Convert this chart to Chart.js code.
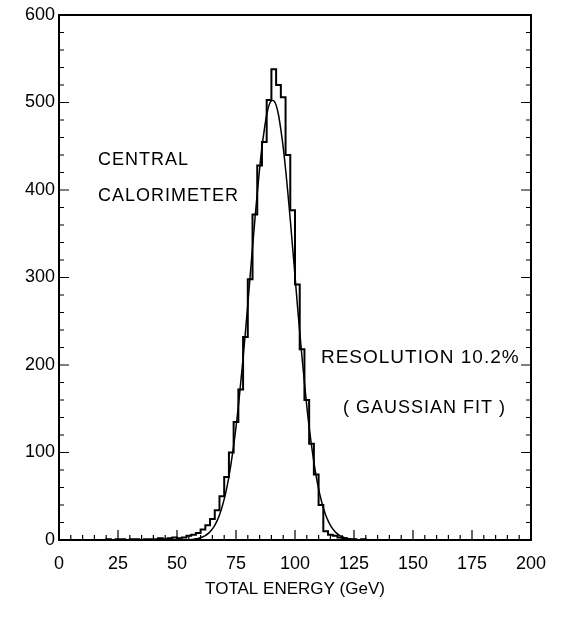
<!DOCTYPE html>
<html>
<head>
<meta charset="utf-8">
<script src="https://cdn.jsdelivr.net/npm/chart.js@4"></script>
<style>
  html, body { margin: 0; padding: 0; background: #fff; }
  #wrap { width: 562px; height: 619px; }
</style>
</head>
<body>
<div id="wrap"><canvas id="chart" width="562" height="619"></canvas></div>
<script>
// energy histogram, 2 GeV bins starting at 0
const binStart = 0;
const binWidth = 2;
const binCounts = [
  0, 0, 0, 0, 0, 0, 0, 0, 0, 0,            // 0 - 20
  1, 0, 1, 1, 0, 1, 1, 0, 1, 1,            // 20 - 40
  1, 2, 1, 2, 3, 2, 3, 5, 6, 8,            // 40 - 60
  12, 17, 24, 34, 50, 72, 100, 135, 172, 232,   // 60 - 80
  298, 372, 428, 455, 503, 538, 520, 506, 440, 377, // 80 - 100
  292, 218, 160, 110, 75, 40, 10, 6, 5, 3, // 100 - 120
  2, 1, 1, 0, 1, 0, 0, 0, 0, 0,            // 120 - 140
  0, 0, 0, 0, 0, 0, 0, 0, 0, 0,
  0, 0, 0, 0, 0, 0, 0, 0, 0, 0,
  0, 0, 0, 0, 0, 0, 0, 0, 0, 0
];

const fitEnergy = [
  52, 53, 54, 55, 56, 57, 58, 59, 60, 61, 62, 63, 64, 65, 66, 67, 68, 69, 70,
  71, 72, 73, 74, 75, 76, 77, 78, 79, 80, 81, 82, 83, 84, 85, 86, 87, 88, 89, 90,
  91, 92, 93, 94, 95, 96, 97, 98, 99, 100, 101, 102, 103, 104, 105, 106, 107, 108, 109, 110,
  111, 112, 113, 114, 115, 116, 117, 118, 119, 120, 121, 122, 123, 124, 125, 126, 127, 128, 129
];
const fitCounts = [
  0.1, 0.2, 0.3, 0.4, 0.6, 0.9, 1.3, 1.8, 2.6, 3.7, 5.1, 7.0, 9.5, 12.7, 16.8, 22.1, 28.7, 36.8, 46.7,
  58.5, 72.5, 89, 108, 129, 153, 180, 208, 238, 269, 302, 334, 366, 396, 424, 449, 469, 486, 497, 502,
  502, 497, 486, 469, 449, 424, 396, 366, 334, 302, 269, 238, 208, 180, 153, 129, 108, 89, 72.5, 58.5,
  46.7, 36.8, 28.7, 22.1, 16.8, 12.7, 9.5, 7.0, 5.1, 3.7, 2.6, 1.8, 1.3, 0.9, 0.6, 0.4, 0.3, 0.2, 0.1
];

const xRange = [0, 200];
const yRange = [0, 600];
const xMajor = 25, xMinor = 5;
const yMajor = 100, yMinor = 20;

// step outline: one point per bin edge, each bin's count held until the next edge
const histPoints = binCounts.map((c, i) => ({ x: binStart + i * binWidth, y: c }));
histPoints.push({ x: binStart + binCounts.length * binWidth, y: binCounts[binCounts.length - 1] });
const fitPoints = fitEnergy.map((e, i) => ({ x: e, y: fitCounts[i] }));

const notes = [
  { text: 'CENTRAL', x: 16.5, y: 434, size: 18 },
  { text: 'CALORIMETER', x: 16.5, y: 393, size: 18 },
  { text: 'RESOLUTION 10.2%', x: 111, y: 208, size: 19 },
  { text: '( GAUSSIAN FIT )', x: 120.3, y: 151, size: 18 }
];

// closed frame, inward tick marks and the text inside the plot
const frameAndTicks = {
  id: 'frameAndTicks',
  afterDatasetsDraw(chart) {
    const { ctx, chartArea: a, scales: { x, y } } = chart;
    ctx.save();
    ctx.strokeStyle = '#000';
    ctx.lineWidth = 2;
    ctx.strokeRect(a.left, a.top, a.right - a.left, a.bottom - a.top);

    ctx.lineWidth = 1.2;
    ctx.beginPath();
    for (let v = x.min; v <= x.max; v += xMinor) {
      const px = x.getPixelForValue(v);
      const len = v % xMajor === 0 ? 10 : 5;
      ctx.moveTo(px, a.bottom);
      ctx.lineTo(px, a.bottom - len);
    }
    for (let v = y.min; v <= y.max; v += yMinor) {
      const py = y.getPixelForValue(v);
      const len = v % yMajor === 0 ? 10 : 5;
      ctx.moveTo(a.left, py);
      ctx.lineTo(a.left + len, py);
      ctx.moveTo(a.right, py);
      ctx.lineTo(a.right - len, py);
    }
    ctx.stroke();

    ctx.fillStyle = '#000';
    ctx.textBaseline = 'middle';
    ctx.textAlign = 'left';
    ctx.letterSpacing = '1px';
    notes.forEach(n => {
      ctx.font = n.size + 'px "Liberation Sans", Arial, sans-serif';
      ctx.fillText(n.text, x.getPixelForValue(n.x), y.getPixelForValue(n.y));
    });
    ctx.restore();
  }
};

const tickFont = { family: '"Liberation Sans", Arial, sans-serif', size: 18 };

new Chart(document.getElementById('chart').getContext('2d'), {
  type: 'line',
  data: {
    datasets: [
      {
        label: 'data',
        data: histPoints,
        stepped: 'before',
        borderColor: '#000',
        borderWidth: 2,
        pointRadius: 0,
        fill: false
      },
      {
        label: 'gaussian fit',
        data: fitPoints,
        borderColor: '#000',
        borderWidth: 1.5,
        pointRadius: 0,
        tension: 0.3,
        fill: false
      }
    ]
  },
  options: {
    responsive: false,
    animation: false,
    layout: { padding: { top: 15, right: 31, left: 0, bottom: 19 } },
    plugins: {
      legend: { display: false },
      tooltip: { enabled: false }
    },
    scales: {
      x: {
        type: 'linear',
        min: xRange[0],
        max: xRange[1],
        grid: { display: false, drawTicks: false },
        border: { display: false },
        ticks: { stepSize: xMajor, color: '#000', font: tickFont, padding: 13, maxRotation: 0 },
        title: {
          display: true,
          text: 'TOTAL ENERGY (GeV)',
          color: '#000',
          font: { family: '"Liberation Sans", Arial, sans-serif', size: 17 },
          padding: { top: 6, bottom: 0 }
        },
        afterFit(scale) { scale.height = 60; }
      },
      y: {
        type: 'linear',
        min: yRange[0],
        max: yRange[1],
        grid: { display: false, drawTicks: false },
        border: { display: false },
        ticks: { stepSize: yMajor, color: '#000', font: tickFont, padding: 4 },
        afterFit(scale) { scale.width = 59; }
      }
    }
  },
  plugins: [frameAndTicks]
});
</script>
</body>
</html>
